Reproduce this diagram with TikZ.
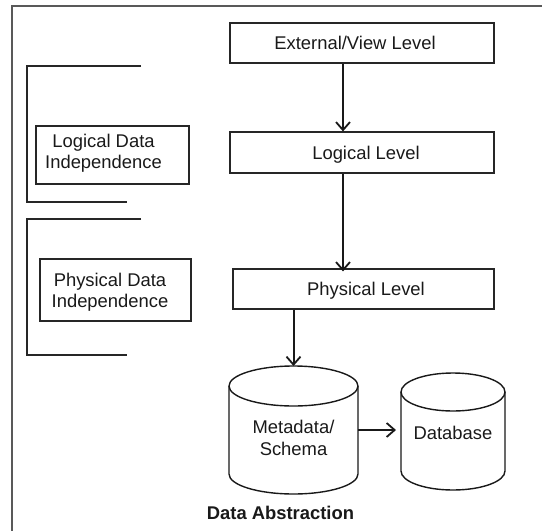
\documentclass[tikz,border=0pt]{standalone}
\usepackage{fontspec}
\setmainfont{Liberation Sans}
\usetikzlibrary{arrows.meta}
\begin{document}
\begin{tikzpicture}[x=1pt,y=-1pt,
  every node/.style={font=\fontsize{18.4}{21.5}\selectfont, text=black!90},
  levelbox/.style={draw=black!85, line width=1.2pt, minimum height=40pt, inner sep=0pt, text height=13.2pt, text depth=0pt},
  indbox/.style={draw=black!85, line width=1.2pt, inner sep=0pt},
  bracketline/.style={draw=black!85, line width=1.2pt},
  frameline/.style={draw=black!65, line width=1.6pt},
  conn/.style={draw=black!90, line width=2pt, -{Straight Barb[length=8pt,width=14pt,line width=1.8pt]}},
  cyl/.style={draw=black!90, line width=1.4pt}
]
\useasboundingbox (0,0) rectangle (542,531);
% frame
\draw[frameline] (12,531) -- (12,6) -- (542,6);
% level boxes
\node[levelbox, minimum width=264pt] (ext) at (362,43) {\hspace*{-14pt}External/View Level};
\node[levelbox, minimum width=264pt, minimum height=41pt] (log) at (362,152.5) {Logical Level\hspace*{-8pt}};
\node[levelbox, minimum width=261pt] (phys) at (363.5,289) {Physical Level\hspace*{-5pt}};
% independence brackets
\draw[bracketline] (141,66) -- (27,66) -- (27,202) -- (127,202);
\draw[bracketline] (141,219) -- (27,219) -- (27,355) -- (127,355);
\node[indbox, minimum width=153pt, minimum height=58pt] (ldibox) at (112.5,155) {};
\node[align=center, inner sep=0pt] (ldi) at (103.5,153) {Logical Data\\Independence};
\node[indbox, minimum width=151pt, minimum height=62pt] (pdibox) at (115.5,290) {};
\node[align=center, inner sep=0pt] (pdi) at (110,292) {Physical Data\\Independence};
% cylinders
\draw[cyl] (293.5,386) ellipse[x radius=64.5, y radius=20];
\draw[cyl] (229,386) -- (229,474)
  arc[start angle=180, end angle=0, x radius=64.5, y radius=20] -- (358,386);
\coordinate (metatop) at (293.5,366);
\coordinate (metaright) at (358,430);
\node[align=center, inner sep=0pt] (meta) at (293.5,438) {Metadata/\\Schema};
\draw[cyl] (453,392) ellipse[x radius=52, y radius=19];
\draw[cyl] (401,392) -- (401,471)
  arc[start angle=180, end angle=0, x radius=52, y radius=19] -- (505,392);
\coordinate (dbleft) at (396,430);
\node[inner sep=0pt, text height=13.2pt, text depth=0pt] (db) at (453,433) {Database};
% title
\node[inner sep=0pt, font=\fontsize{18.4}{21.5}\selectfont\bfseries, text height=13.2pt, text depth=0pt] (title) at (280.5,512.5) {Data Abstraction};
% connectors
\draw[conn] (ext.south -| 343,0) -- (log.north -| 343,0);
\draw[conn] (log.south -| 343,0) -- ([yshift=-3pt]phys.north -| 343,0);
\draw[conn] (phys.south -| metatop) -- (metatop);
\draw[conn] (metaright) -- (dbleft);
\end{tikzpicture}
\end{document}
